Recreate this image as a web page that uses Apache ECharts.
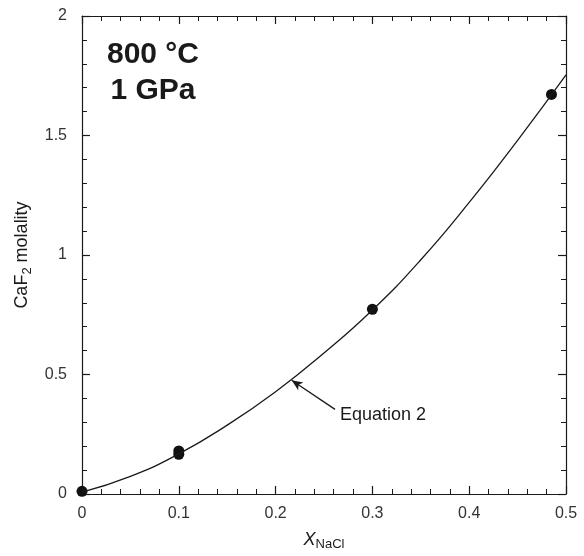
<!DOCTYPE html>
<html>
<head>
<meta charset="utf-8">
<script src="https://cdn.jsdelivr.net/npm/echarts@6/dist/echarts.min.js"></script>
<style>
html,body{margin:0;padding:0;background:#fff;}
#c{width:584px;height:556px;}
</style>
</head>
<body>
<div id="c"></div>
<script>
// Measured data points (X_NaCl, CaF2 molality)
const pointX = [0, 0.1, 0.1, 0.3, 0.485];
const pointY = [0.011, 0.18, 0.166, 0.773, 1.672];

// Equation 2 curve
const curveX = [0, 0.05, 0.1, 0.15, 0.2, 0.25, 0.3, 0.35, 0.4, 0.45, 0.5];
const curveY = [0.008, 0.074, 0.168, 0.288, 0.428, 0.59, 0.77, 0.98, 1.22, 1.48, 1.754];

// Annotation arrow (tail -> tip) and label anchor, in data units
const arrowTail = [0.2614, 0.354];
const arrowTip = [0.2166, 0.476];
const labelAnchor = [0.2665, 0.332];

const xTicks = [0, 0.5, 0.1];   // min, max, interval
const yTicks = [0, 2, 0.5];

const FONT = 'Liberation Sans, Arial, sans-serif';
const INK = '#1a1a1a';

const chart = echarts.init(document.getElementById('c'), null, {renderer: 'canvas'});

function axisBase(show) {
  return {
    axisLine: {show: true, onZero: false, lineStyle: {color: INK, width: 1.2}},
    axisTick: {show: true, inside: true, length: 8, lineStyle: {color: INK, width: 1.2}},
    minorTick: {show: true, splitNumber: 5, length: 5, lineStyle: {color: INK, width: 1}},
    splitLine: {show: false},
    axisLabel: {show: show, color: INK, fontFamily: FONT, fontSize: 16}
  };
}

const option = {
  animation: false,
  backgroundColor: '#fff',
  grid: {left: 82, right: 18, top: 16, bottom: 58},
  xAxis: [
    Object.assign(axisBase(true), {
      type: 'value', min: xTicks[0], max: xTicks[1], interval: xTicks[2], position: 'bottom',
      name: '{i|X}{s|NaCl}', nameLocation: 'middle', nameGap: 34,
      nameTextStyle: {rich: {
        i: {fontFamily: FONT, fontStyle: 'italic', fontSize: 18, color: INK},
        s: {fontFamily: FONT, fontSize: 13, color: INK, padding: [10, 0, 0, 0]}
      }},
      axisLabel: {show: true, color: '#333', fontFamily: FONT, fontSize: 16, margin: 12}
    }),
    Object.assign(axisBase(false), {
      type: 'value', min: xTicks[0], max: xTicks[1], interval: xTicks[2], position: 'top'
    })
  ],
  yAxis: [
    Object.assign(axisBase(true), {
      type: 'value', min: yTicks[0], max: yTicks[1], interval: yTicks[2], position: 'left',
      name: '{n|CaF}{s|2}{n| molality}', nameLocation: 'middle', nameGap: 47, nameRotate: 90,
      nameTextStyle: {rich: {
        n: {fontFamily: FONT, fontSize: 18, color: INK},
        s: {fontFamily: FONT, fontSize: 13, color: INK, padding: [10, 0, 0, 0]}
      }},
      axisLabel: {show: true, color: '#333', fontFamily: FONT, fontSize: 16, margin: 15}
    }),
    Object.assign(axisBase(false), {
      type: 'value', min: yTicks[0], max: yTicks[1], interval: yTicks[2], position: 'right'
    })
  ],
  series: [
    {
      type: 'line',
      data: curveX.map((x, i) => [x, curveY[i]]),
      smooth: true,
      showSymbol: false,
      symbol: 'none',
      lineStyle: {color: INK, width: 1.3},
      silent: true,
      markLine: {
        silent: true,
        symbol: ['none', 'arrow'],
        symbolSize: [7, 11],
        label: {show: false},
        lineStyle: {color: INK, width: 1.3, type: 'solid'},
        data: [[{coord: arrowTail}, {coord: arrowTip}]]
      },
      markPoint: {
        silent: true,
        symbol: 'circle',
        symbolSize: 0,
        label: {show: true, position: 'right', distance: 0, formatter: 'Equation 2',
          color: INK, fontFamily: FONT, fontSize: 18},
        data: [{coord: labelAnchor}]
      }
    },
    {
      type: 'scatter',
      data: pointX.map((x, i) => [x, pointY[i]]),
      symbol: 'circle',
      symbolSize: 11,
      itemStyle: {color: '#111', opacity: 1},
      silent: true
    }
  ],
  graphic: [
    {
      type: 'text',
      x: 153, y: 37,
      style: {
        text: '800 °C\n1 GPa',
        font: 'bold 30px ' + FONT,
        fill: INK,
        align: 'center',
        verticalAlign: 'top',
        lineHeight: 36
      }
    }
  ]
};
chart.setOption(option);
</script>
</body>
</html>
